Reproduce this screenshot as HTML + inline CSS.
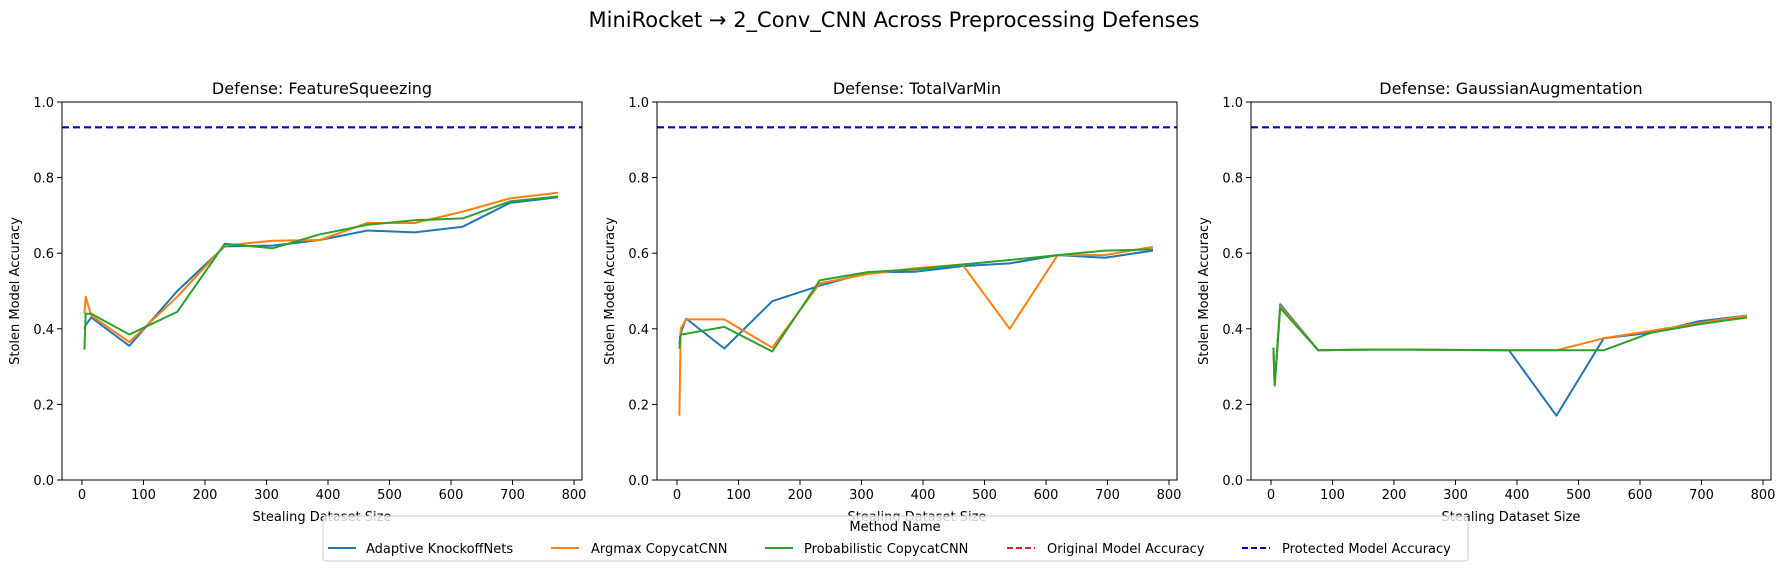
<!DOCTYPE html>
<html><head><meta charset="utf-8">
<style>
html,body{margin:0;padding:0;background:#fff;}
svg{display:block;font-family:"DejaVu Sans","Liberation Sans",sans-serif;}
</style></head>
<body>
<svg id="fig" width="1788" height="571" viewBox="0 0 1788 571" xmlns="http://www.w3.org/2000/svg">
<rect width="1788" height="571" fill="#fff"/>
<text x="894" y="27" font-size="21" text-anchor="middle" fill="#000">MiniRocket → 2_Conv_CNN Across Preprocessing Defenses</text>
<g id="panels"></g>
<g id="legend">
  <rect x="323" y="516" width="1145" height="45" rx="3" fill="rgba(255,255,255,0.8)" stroke="#cccccc" stroke-width="1"/>
  <text x="895" y="531" font-size="13" text-anchor="middle">Method Name</text>
  <g><line x1="328" y1="548" x2="356" y2="548" stroke="#1f77b4" stroke-width="2"/><text x="366" y="553" font-size="13">Adaptive KnockoffNets</text></g>
  <g><line x1="551" y1="548" x2="579" y2="548" stroke="#ff7f0e" stroke-width="2"/><text x="591" y="553" font-size="13">Argmax CopycatCNN</text></g>
  <g><line x1="765" y1="548" x2="793" y2="548" stroke="#2ca02c" stroke-width="2"/><text x="804" y="553" font-size="13">Probabilistic CopycatCNN</text></g>
  <g><line x1="1007" y1="548" x2="1035" y2="548" stroke="#d62728" stroke-width="2" stroke-dasharray="6,3"/><text x="1047" y="553" font-size="13">Original Model Accuracy</text></g>
  <g><line x1="1242" y1="548" x2="1270" y2="548" stroke="#0000cc" stroke-width="2" stroke-dasharray="6,3"/><text x="1282" y="553" font-size="13">Protected Model Accuracy</text></g>
</g>
</svg>
<script>
const sizes = [4, 6, 15, 77, 155, 232, 310, 387, 464, 541, 619, 696, 774];
const panelTitles = ["Defense: FeatureSqueezing", "Defense: TotalVarMin", "Defense: GaussianAugmentation"];
const adaptiveFS = [0.40, 0.41, 0.43, 0.355, 0.50, 0.618, 0.62, 0.635, 0.66, 0.655, 0.67, 0.733, 0.748];
const argmaxFS = [0.44, 0.485, 0.435, 0.365, 0.485, 0.62, 0.633, 0.635, 0.68, 0.68, 0.71, 0.745, 0.76];
const probFS = [0.345, 0.44, 0.44, 0.385, 0.445, 0.625, 0.613, 0.65, 0.675, 0.687, 0.692, 0.737, 0.75];
const adaptiveTV = [0.36, 0.39, 0.427, 0.348, 0.473, 0.514, 0.549, 0.551, 0.566, 0.573, 0.595, 0.588, 0.607];
const argmaxTV = [0.17, 0.40, 0.425, 0.425, 0.35, 0.52, 0.545, 0.56, 0.57, 0.40, 0.595, 0.595, 0.617];
const probTV = [0.348, 0.385, 0.387, 0.405, 0.34, 0.528, 0.55, 0.557, 0.57, 0.582, 0.595, 0.607, 0.61];
const adaptiveGA = [0.35, 0.25, 0.465, 0.343, 0.345, 0.345, 0.344, 0.343, 0.17, 0.375, 0.39, 0.42, 0.435];
const argmaxGA = [0.35, 0.25, 0.46, 0.343, 0.345, 0.345, 0.344, 0.343, 0.343, 0.375, 0.395, 0.415, 0.435];
const probGA = [0.35, 0.25, 0.455, 0.343, 0.345, 0.345, 0.344, 0.343, 0.343, 0.343, 0.39, 0.412, 0.43];
const originalAcc = [0.933, 0.933, 0.933];
const protectedAcc = [0.933, 0.933, 0.933];
const xTicks = [0, 100, 200, 300, 400, 500, 600, 700, 800];
const yTicks = [0.0, 0.2, 0.4, 0.6, 0.8, 1.0];

const NS = "http://www.w3.org/2000/svg";
const panelsG = document.getElementById("panels");
const panelLefts = [62, 657, 1251];
const PW = 520, TOP = 102, BOT = 480;
const XMIN = -32.5, XMAX = 813;
const seriesData = [[adaptiveFS, argmaxFS, probFS], [adaptiveTV, argmaxTV, probTV], [adaptiveGA, argmaxGA, probGA]];
const colors = ["#1f77b4", "#ff7f0e", "#2ca02c"];
const sNames = ["adaptive-knockoffnets", "argmax-copycatcnn", "probabilistic-copycatcnn"];
function mk(tag, attrs, parent) { const e = document.createElementNS(NS, tag); for (const k in attrs) e.setAttribute(k, attrs[k]); parent.appendChild(e); return e; }

panelTitles.forEach((title, p) => {
  const L = panelLefts[p];
  const sx = v => L + (v - XMIN) / (XMAX - XMIN) * PW;
  const sy = v => BOT - v * (BOT - TOP);
  const g = mk("g", {}, panelsG);
  
  
  const t = mk("text", {x: L + PW / 2, y: TOP - 8, "font-size": 16, "text-anchor": "middle"}, g);
  t.textContent = title;
  
  
  seriesData[p].forEach((arr, s) => {
    const pts = arr.map((v, i) => sx(sizes[i]).toFixed(1) + "," + sy(v).toFixed(1)).join(" ");
    const pl = mk("polyline", {points: pts, fill: "none", stroke: colors[s], "stroke-width": 2, "stroke-linejoin": "round"}, g);
    
    
  });
  const ro = mk("line", {x1: L, x2: L + PW, y1: sy(originalAcc[p]), y2: sy(originalAcc[p]), stroke: "#d62728", "stroke-width": 1.2, "stroke-dasharray": "7,4"}, g);
  
  
  const bl = mk("line", {x1: L, x2: L + PW, y1: sy(protectedAcc[p]), y2: sy(protectedAcc[p]), stroke: "#0000cc", "stroke-width": 2.2, "stroke-dasharray": "7,4"}, g);
  
  
  const fr = mk("rect", {x: L, y: TOP, width: PW, height: BOT - TOP, fill: "none", stroke: "#000", "stroke-width": 1}, g);
  
  
  xTicks.forEach(v => {
    const x = sx(v);
    mk("line", {x1: x, x2: x, y1: BOT, y2: BOT + 5, stroke: "#000"}, g);
    const tx = mk("text", {x: x, y: BOT + 19, "font-size": 13, "text-anchor": "middle"}, g);
    tx.textContent = v;
    
    
  });
  yTicks.forEach(v => {
    const y = sy(v);
    mk("line", {x1: L - 5, x2: L, y1: y, y2: y, stroke: "#000"}, g);
    const ty = mk("text", {x: L - 8, y: y + 5, "font-size": 13, "text-anchor": "end"}, g);
    ty.textContent = v.toFixed(1);
    
    
  });
  const xl = mk("text", {x: L + PW / 2, y: 521, "font-size": 13, "text-anchor": "middle"}, g);
  xl.textContent = "Stealing Dataset Size";
  
  
  const yl = mk("text", {x: 0, y: 0, "font-size": 13, "text-anchor": "middle", transform: "translate(" + (L - 43) + "," + ((TOP + BOT) / 2) + ") rotate(-90)"}, g);
  yl.textContent = "Stolen Model Accuracy";
  
  
});
document.getElementById("fig").appendChild(document.getElementById("legend"));
</script>
</body></html>
